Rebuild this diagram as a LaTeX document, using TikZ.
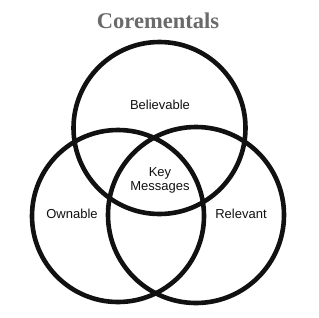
\documentclass[tikz,border=0pt]{standalone}
\usepackage{fontspec}
\setmainfont{Liberation Serif}
\setsansfont{Liberation Sans}
\definecolor{titlegray}{HTML}{6A6A6A}
\definecolor{ink}{HTML}{111111}
\begin{document}
\begin{tikzpicture}[x=1pt,y=-1pt,
  ring/.style={draw=ink,line width=4.6pt},
  lbl/.style={font=\sffamily\fontsize{13}{15}\selectfont,text=ink,align=center,inner sep=0pt},
  ttl/.style={font=\bfseries\fontsize{22.5}{26}\selectfont,text=titlegray,inner sep=0pt}]
\useasboundingbox[fill=white] (0,0) rectangle (319,317);
\node[ttl] (title) at (158,21) {Corementals};
\node[ring,circle,minimum size=172pt,inner sep=0pt] (top) at (159.5,128) {};
\node[ring,circle,minimum size=172pt,inner sep=0pt] (left) at (118,216) {};
\node[ring,circle,minimum size=176pt,inner sep=0pt] (right) at (196,215) {};
\node[lbl] (bel) at (160,105) {Believable};
\node[lbl] (key) at (160,180) {Key\\[-1pt]Messages};
\node[lbl] (own) at (72,214) {Ownable};
\node[lbl] (rel) at (241,214) {Relevant};
\end{tikzpicture}
\end{document}
